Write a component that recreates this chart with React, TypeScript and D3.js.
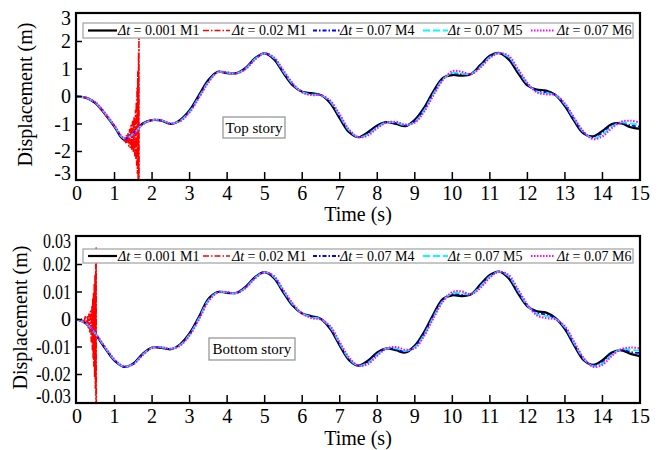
import React from "react";
import * as d3 from "d3";

const TIME = d3.range(0, 15.001, 0.25);

// Top story (m)
const TOP_M1 = [0, -0.05, -0.25, -0.65, -1.1, -1.57, -1.3, -0.98, -0.86, -0.88, -1.0, -0.85, -0.5, 0.05, 0.6, 0.9, 0.85, 0.85, 1.05, 1.4, 1.57, 1.35, 0.85, 0.4, 0.17, 0.12, 0.05, -0.25, -0.8, -1.3, -1.48, -1.3, -1.05, -0.93, -1.0, -1.08, -0.85, -0.4, 0.2, 0.68, 0.78, 0.76, 0.82, 1.15, 1.48, 1.58, 1.35, 0.85, 0.4, 0.25, 0.22, 0.05, -0.35, -0.9, -1.35, -1.45, -1.25, -1.0, -0.98, -1.12, -1.18];
const TOP_M4 = [0, -0.05, -0.24, -0.63, -1.08, -1.54, -1.34, -1.0, -0.86, -0.87, -0.99, -0.87, -0.53, 0.0, 0.56, 0.89, 0.86, 0.85, 1.03, 1.38, 1.57, 1.38, 0.89, 0.43, 0.16, 0.09, 0.05, -0.21, -0.74, -1.26, -1.48, -1.35, -1.09, -0.93, -0.97, -1.06, -0.89, -0.46, 0.14, 0.65, 0.83, 0.81, 0.82, 1.11, 1.45, 1.58, 1.4, 0.92, 0.44, 0.21, 0.16, 0.06, -0.31, -0.85, -1.32, -1.49, -1.32, -1.05, -0.96, -1.05, -1.1];
const TOP_M5 = [0, -0.05, -0.23, -0.62, -1.07, -1.52, -1.36, -1.01, -0.86, -0.86, -0.98, -0.88, -0.55, -0.02, 0.53, 0.88, 0.87, 0.84, 1.02, 1.37, 1.57, 1.4, 0.91, 0.45, 0.16, 0.07, 0.05, -0.18, -0.7, -1.23, -1.48, -1.38, -1.12, -0.94, -0.95, -1.04, -0.92, -0.5, 0.1, 0.62, 0.86, 0.84, 0.82, 1.08, 1.43, 1.58, 1.44, 0.96, 0.47, 0.18, 0.12, 0.05, -0.28, -0.82, -1.3, -1.52, -1.38, -1.1, -0.94, -0.98, -1.03];
const TOP_M6 = [0, -0.04, -0.22, -0.6, -1.05, -1.5, -1.38, -1.02, -0.86, -0.86, -0.98, -0.9, -0.58, -0.05, 0.5, 0.88, 0.88, 0.84, 1.0, 1.35, 1.57, 1.42, 0.95, 0.48, 0.15, 0.05, 0.05, -0.15, -0.65, -1.2, -1.48, -1.42, -1.15, -0.95, -0.92, -1.02, -0.95, -0.55, 0.05, 0.6, 0.92, 0.9, 0.82, 1.05, 1.4, 1.58, 1.48, 1.0, 0.5, 0.15, 0.08, 0.05, -0.25, -0.78, -1.28, -1.55, -1.45, -1.15, -0.92, -0.88, -0.95];
const TOP_RED_T = [0, 0.25, 0.5, 0.75, 1.0, 1.2, 1.22, 1.24, 1.26, 1.28, 1.3, 1.32, 1.34, 1.36, 1.38, 1.4, 1.42, 1.44, 1.46, 1.48, 1.5, 1.52, 1.54, 1.56, 1.57, 1.58, 1.59, 1.6, 1.61, 1.62, 1.63, 1.64, 1.645, 1.65, 1.655];
const TOP_RED_V = [0, -0.05, -0.25, -0.65, -1.1, -1.5, -1.55, -1.48, -1.62, -1.45, -1.68, -1.4, -1.72, -1.3, -1.8, -1.2, -1.85, -1.05, -1.95, -0.9, -2.0, -0.75, -2.15, -0.5, -2.3, -0.2, -2.5, 0.3, -2.8, 0.9, -3.3, 1.6, -4, 2.1, -4];

// Bottom story (m)
const BOT_M1 = [0, -0.0015, -0.0055, -0.0105, -0.015, -0.0172, -0.016, -0.0125, -0.0102, -0.0103, -0.0108, -0.009, -0.005, 0.001, 0.0075, 0.01, 0.0097, 0.0097, 0.012, 0.0155, 0.0172, 0.015, 0.0098, 0.005, 0.0022, 0.0012, 0.0002, -0.0035, -0.0095, -0.0148, -0.0168, -0.015, -0.012, -0.0105, -0.0112, -0.012, -0.0095, -0.0045, 0.002, 0.0075, 0.0088, 0.0085, 0.0092, 0.0128, 0.0162, 0.0174, 0.015, 0.0095, 0.0048, 0.003, 0.0025, 0.0005, -0.0035, -0.0095, -0.0148, -0.0165, -0.0148, -0.012, -0.0112, -0.0125, -0.0133];
const BOT_M4 = [0, -0.0015, -0.0054, -0.0104, -0.0149, -0.0172, -0.0161, -0.0127, -0.0102, -0.0102, -0.0107, -0.0092, -0.0053, 0.0007, 0.0072, 0.01, 0.0098, 0.0097, 0.0118, 0.0153, 0.0172, 0.0153, 0.0101, 0.0053, 0.0022, 0.001, 0.0002, -0.0032, -0.0091, -0.0145, -0.0168, -0.0154, -0.0124, -0.0105, -0.0109, -0.0117, -0.0098, -0.005, 0.0015, 0.0072, 0.0092, 0.009, 0.0092, 0.0124, 0.0159, 0.0174, 0.0154, 0.01, 0.005, 0.0025, 0.0018, 0.0003, -0.0032, -0.0091, -0.0145, -0.0167, -0.0154, -0.0125, -0.011, -0.0118, -0.0122];
const BOT_M5 = [0, -0.0015, -0.0053, -0.0102, -0.0147, -0.0171, -0.0162, -0.0128, -0.0103, -0.0101, -0.0106, -0.0093, -0.0055, 0.0004, 0.0069, 0.0099, 0.0099, 0.0096, 0.0116, 0.0152, 0.0172, 0.0155, 0.0104, 0.0055, 0.0022, 0.0008, 0.0001, -0.0028, -0.0087, -0.0142, -0.0168, -0.0158, -0.0128, -0.0105, -0.0105, -0.0114, -0.0101, -0.0055, 0.001, 0.0068, 0.0096, 0.0096, 0.0092, 0.012, 0.0156, 0.0174, 0.0158, 0.0105, 0.0052, 0.002, 0.0012, 0.0002, -0.0028, -0.0087, -0.0142, -0.017, -0.016, -0.0128, -0.0108, -0.011, -0.0113];
const BOT_M6 = [0, -0.0014, -0.0052, -0.01, -0.0145, -0.017, -0.0163, -0.013, -0.0104, -0.0101, -0.0106, -0.0095, -0.0058, 0.0, 0.0065, 0.0098, 0.01, 0.0096, 0.0115, 0.015, 0.0172, 0.0158, 0.0108, 0.0058, 0.0022, 0.0005, 0.0, -0.0025, -0.0082, -0.0138, -0.0168, -0.0162, -0.0132, -0.0105, -0.01, -0.011, -0.0105, -0.006, 0.0005, 0.0065, 0.01, 0.0102, 0.0092, 0.0115, 0.0152, 0.0174, 0.0162, 0.011, 0.0055, 0.0015, 0.0005, 0.0, -0.0025, -0.0082, -0.014, -0.0172, -0.0165, -0.0132, -0.0108, -0.0102, -0.0105];
const BOT_RED_T = [0, 0.05, 0.1, 0.14, 0.18, 0.22, 0.26, 0.28, 0.3, 0.32, 0.34, 0.36, 0.38, 0.4, 0.41, 0.42, 0.43, 0.44, 0.45, 0.46, 0.47, 0.48, 0.49, 0.5, 0.505, 0.51, 0.515];
const BOT_RED_V = [0, 0, -0.0003, 0.0003, -0.001, 0.001, -0.002, 0.0015, -0.003, 0.002, -0.005, 0.003, -0.008, 0.005, -0.011, 0.008, -0.014, 0.01, -0.017, 0.013, -0.021, 0.016, -0.025, 0.02, -0.035, 0.026, -0.035];

const X_TICKS = d3.range(0, 16, 1);
const TOP_Y_TICKS = [-3, -2, -1, 0, 1, 2, 3];
const BOT_Y_TICKS = [-0.03, -0.02, -0.01, 0, 0.01, 0.02, 0.03];

const LEGEND_NAMES = ["0.001 M1", "0.02 M1", "0.07 M4", "0.07 M5", "0.07 M6"];

const STYLES = [
  { color: "#000000", dash: "", width: 2.2 },
  { color: "#ff0000", dash: "6,2,1.5,2", width: 1.6 },
  { color: "#0000ff", dash: "4,2,1.5,2", width: 1.8 },
  { color: "#00ffff", dash: "7,3", width: 1.8 },
  { color: "#ff00ff", dash: "1.5,1.5", width: 2 },
];

const FONT = "'Liberation Serif', 'Times New Roman', serif";
const X0 = 77, X1 = 640, FRAME_L = 76;
const LEG_SAMPLES = [[88, 117], [203, 230], [313, 340], [423, 448], [531, 555]];
const LEG_TEXT_X = [118, 232, 340, 448, 557];

type Panel = {
  top: number; bottom: number; domain: [number, number]; ticks: number[];
  fmt: (v: number) => string; series: number[][]; redT: number[]; redV: number[];
  label: string; box: [number, number, number, number]; legendY: [number, number];
  xLabelY: number; titleY: number; ylabelX: number; id: string; squeeze: boolean;
};

const panels: Panel[] = [
  {
    id: "p1", top: 14, bottom: 179, domain: [-3, 3], ticks: TOP_Y_TICKS,
    fmt: (v) => String(v), series: [TOP_M1, TOP_M4, TOP_M5, TOP_M6], redT: TOP_RED_T, redV: TOP_RED_V,
    label: "Top story", box: [223, 117, 62, 21], legendY: [23, 38], xLabelY: 200, titleY: 221, ylabelX: 32, squeeze: false,
  },
  {
    id: "p2", top: 237, bottom: 402, domain: [-0.03, 0.03], ticks: BOT_Y_TICKS,
    fmt: (v) => (Math.abs(v) < 1e-9 ? "0" : v.toFixed(2)), series: [BOT_M1, BOT_M4, BOT_M5, BOT_M6], redT: BOT_RED_T, redV: BOT_RED_V,
    label: "Bottom story", box: [209, 338, 86, 22], legendY: [249, 263], xLabelY: 423, titleY: 445, ylabelX: 27, squeeze: true,
  },
];

function PanelView({ p }: { p: Panel }) {
  const x = d3.scaleLinear().domain([0, 15]).range([X0, X1]);
  const y = d3.scaleLinear().domain(p.domain).range([p.bottom, p.top]);
  const smooth = d3.line<[number, number]>().x((d) => x(d[0])).y((d) => y(d[1])).curve(d3.curveCatmullRom);
  const lin = d3.line<[number, number]>().x((d) => x(d[0])).y((d) => y(d[1]));
  const ordered = [
    { d: smooth(TIME.map((t, i) => [t, p.series[0][i]] as [number, number])), s: STYLES[0] },
    { d: lin(p.redT.map((t, i) => [t, p.redV[i]] as [number, number])), s: STYLES[1] },
    { d: smooth(TIME.map((t, i) => [t, p.series[1][i]] as [number, number])), s: STYLES[2] },
    { d: smooth(TIME.map((t, i) => [t, p.series[2][i]] as [number, number])), s: STYLES[3] },
    { d: smooth(TIME.map((t, i) => [t, p.series[3][i]] as [number, number])), s: STYLES[4] },
  ];
  const midY = (p.legendY[0] + p.legendY[1]) / 2;
  return (
    <g>
      <defs>
        <clipPath id={p.id}>
          <rect x={FRAME_L} y={p.top - 1} width={X1 - FRAME_L} height={p.bottom - p.top + 2} />
        </clipPath>
      </defs>
      <rect x={FRAME_L} y={p.top - 1} width={X1 - FRAME_L} height={p.bottom - p.top + 2} fill="#fff" />
      <g clipPath={`url(#${p.id})`}>
        {ordered.map((o, i) => (
          <path key={i} d={o.d || ""} fill="none" stroke={o.s.color} strokeWidth={o.s.width}
            strokeDasharray={o.s.dash || undefined} strokeLinejoin="round" />
        ))}
      </g>
      {/* legend */}
      <rect x={83} y={p.legendY[0]} width={550} height={p.legendY[1] - p.legendY[0]} fill="#fff" stroke="#a0a0a0" strokeWidth={1.2} />
      {LEGEND_NAMES.map((n, i) => (
        <g key={n}>
          <line x1={LEG_SAMPLES[i][0]} x2={LEG_SAMPLES[i][1]} y1={midY} y2={midY} stroke={STYLES[i].color}
            strokeWidth={STYLES[i].width} strokeDasharray={STYLES[i].dash || undefined} />
          <text x={LEG_TEXT_X[i]} y={midY + 4.8} fontFamily={FONT} fontSize={14}>
            <tspan fontStyle="italic">Δt</tspan>
            <tspan> = {n}</tspan>
          </text>
        </g>
      ))}
      {/* annotation */}
      <rect x={p.box[0]} y={p.box[1]} width={p.box[2]} height={p.box[3]} fill="#fff" stroke="#999" strokeWidth={1.3} />
      <text x={p.box[0] + p.box[2] / 2} y={p.box[1] + p.box[3] / 2 + 5} textAnchor="middle" fontFamily={FONT} fontSize={15}>{p.label}</text>
      {/* frame */}
      <rect x={FRAME_L} y={p.top - 1} width={X1 - FRAME_L} height={p.bottom - p.top + 2} fill="none" stroke="#000" strokeWidth={2.2} />
      {/* x ticks */}
      {X_TICKS.map((t) => (
        <g key={t}>
          {t > 0 && t < 15 && <line x1={x(t)} x2={x(t)} y1={p.bottom} y2={p.bottom - 7} stroke="#000" strokeWidth={1.5} />}
          <text x={x(t)} y={p.xLabelY} textAnchor="middle" fontFamily={FONT} fontSize={20}>{t}</text>
        </g>
      ))}
      {/* y ticks */}
      {p.ticks.map((v) => {
        const lbl = p.fmt(v);
        const extra = p.squeeze && lbl.length > 1 ? { textLength: lbl.startsWith("-") ? 35 : 28, lengthAdjust: "spacingAndGlyphs" } : {};
        const yy = Math.min(Math.max(y(v), p.top + 4), p.bottom - 6);
        return (
          <g key={v}>
            {v !== p.domain[0] && v !== p.domain[1] && <line x1={FRAME_L} x2={FRAME_L + 6} y1={y(v)} y2={y(v)} stroke="#000" strokeWidth={1.5} />}
            <text x={71} y={yy + 6.5} textAnchor="end" fontFamily={FONT} fontSize={20} {...extra}>{lbl}</text>
          </g>
        );
      })}
      <text x={358} y={p.titleY} textAnchor="middle" fontFamily={FONT} fontSize={20}>Time (s)</text>
      <text transform={`translate(${p.ylabelX},${(p.top + p.bottom) / 2 - 2}) rotate(-90)`} textAnchor="middle" fontFamily={FONT} fontSize={20}>Displacement (m)</text>
    </g>
  );
}

export default function App() {
  return (
    <svg width={660} height={450} style={{ position: "absolute", left: 0, top: 0, background: "#fff" }}>
      <rect width={660} height={450} fill="#fff" />
      {panels.map((p) => <PanelView key={p.id} p={p} />)}
    </svg>
  );
}
